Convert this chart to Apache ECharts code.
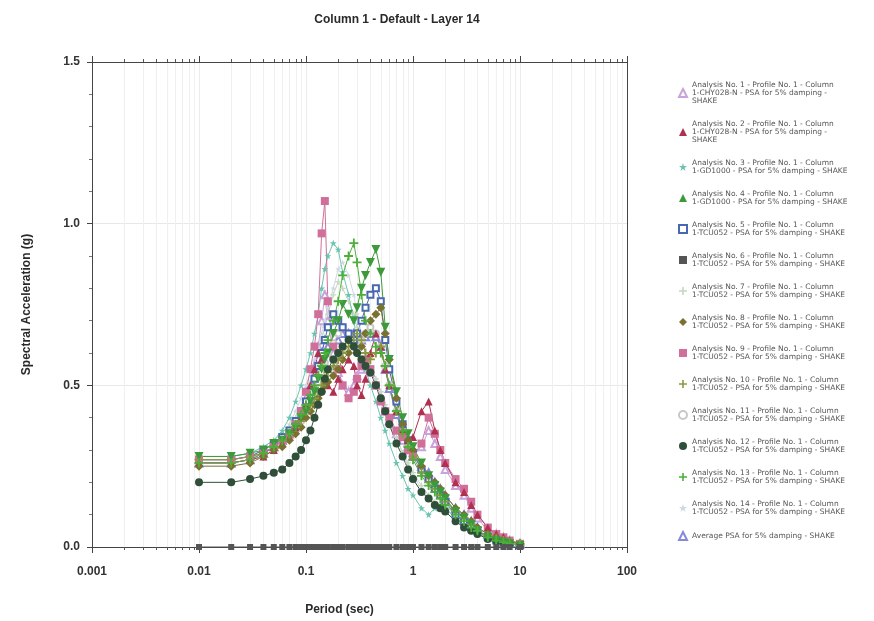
<!DOCTYPE html>
<html>
<head>
<meta charset="utf-8">
<script src="https://cdn.jsdelivr.net/npm/echarts@6/dist/echarts.min.js"></script>
<style>
html,body{margin:0;padding:0;background:#fff;}
#chart{width:874px;height:621px;}
</style>
</head>
<body>
<div id="chart"></div>
<script>
// ---------- DATA ----------
const titleText = 'Column 1 - Default - Layer 14';
const xAxisName = 'Period (sec)';
const yAxisName = 'Spectral Acceleration (g)';
const xTickValues = [0.001, 0.01, 0.1, 1, 10, 100];
const yTickValues = [0.0, 0.5, 1.0, 1.5];

const periods = [0.01,0.02,0.03,0.04,0.05,0.06,0.07,0.08,0.09,0.1,0.11,0.12,0.13,0.14,0.15,0.16,0.18,0.2,0.22,0.25,0.28,0.3,0.33,0.36,0.4,0.45,0.5,0.55,0.6,0.7,0.8,0.9,1.0,1.2,1.4,1.6,1.8,2.0,2.5,3.0,3.5,4.0,5.0,6.0,7.0,8.0,10.0];

const seriesNames = [
  'Analysis No. 1 - Profile No. 1 - Column 1-CHY028-N - PSA for 5% damping - SHAKE',
  'Analysis No. 2 - Profile No. 1 - Column 1-CHY028-N - PSA for 5% damping - SHAKE',
  'Analysis No. 3 - Profile No. 1 - Column 1-GD1000 - PSA for 5% damping - SHAKE',
  'Analysis No. 4 - Profile No. 1 - Column 1-GD1000 - PSA for 5% damping - SHAKE',
  'Analysis No. 5 - Profile No. 1 - Column 1-TCU052 - PSA for 5% damping - SHAKE',
  'Analysis No. 6 - Profile No. 1 - Column 1-TCU052 - PSA for 5% damping - SHAKE',
  'Analysis No. 7 - Profile No. 1 - Column 1-TCU052 - PSA for 5% damping - SHAKE',
  'Analysis No. 8 - Profile No. 1 - Column 1-TCU052 - PSA for 5% damping - SHAKE',
  'Analysis No. 9 - Profile No. 1 - Column 1-TCU052 - PSA for 5% damping - SHAKE',
  'Analysis No. 10 - Profile No. 1 - Column 1-TCU052 - PSA for 5% damping - SHAKE',
  'Analysis No. 11 - Profile No. 1 - Column 1-TCU052 - PSA for 5% damping - SHAKE',
  'Analysis No. 12 - Profile No. 1 - Column 1-TCU052 - PSA for 5% damping - SHAKE',
  'Analysis No. 13 - Profile No. 1 - Column 1-TCU052 - PSA for 5% damping - SHAKE',
  'Analysis No. 14 - Profile No. 1 - Column 1-TCU052 - PSA for 5% damping - SHAKE',
  'Average PSA for 5% damping - SHAKE'
];

const psa1  = [0.27,0.27,0.28,0.29,0.31,0.33,0.35,0.38,0.41,0.45,0.50,0.56,0.62,0.70,0.78,0.70,0.60,0.54,0.50,0.48,0.50,0.53,0.55,0.56,0.54,0.50,0.46,0.42,0.39,0.35,0.33,0.30,0.28,0.31,0.36,0.32,0.28,0.24,0.19,0.16,0.12,0.09,0.05,0.04,0.03,0.02,0.01];
const psa2  = [0.26,0.26,0.27,0.28,0.30,0.32,0.34,0.37,0.40,0.44,0.50,0.55,0.60,0.58,0.52,0.50,0.48,0.52,0.55,0.58,0.56,0.50,0.47,0.52,0.60,0.66,0.62,0.55,0.50,0.42,0.36,0.33,0.34,0.42,0.45,0.36,0.30,0.26,0.20,0.17,0.13,0.10,0.06,0.04,0.03,0.02,0.01];
const psa3  = [0.28,0.28,0.29,0.31,0.33,0.36,0.40,0.45,0.50,0.55,0.60,0.66,0.72,0.80,0.86,0.90,0.94,0.92,0.85,0.78,0.70,0.62,0.58,0.55,0.50,0.45,0.40,0.36,0.32,0.26,0.22,0.18,0.16,0.12,0.10,0.12,0.13,0.12,0.09,0.07,0.05,0.04,0.03,0.02,0.015,0.01,0.005];
const psa4  = [0.28,0.28,0.29,0.30,0.32,0.33,0.35,0.37,0.40,0.42,0.45,0.48,0.52,0.55,0.58,0.60,0.66,0.70,0.75,0.72,0.70,0.74,0.80,0.84,0.88,0.92,0.85,0.68,0.58,0.48,0.40,0.35,0.31,0.26,0.22,0.19,0.17,0.15,0.11,0.09,0.07,0.05,0.03,0.02,0.015,0.01,0.005];
const psa5  = [0.27,0.27,0.28,0.30,0.32,0.34,0.36,0.39,0.42,0.45,0.48,0.52,0.56,0.60,0.64,0.68,0.72,0.70,0.68,0.66,0.64,0.66,0.70,0.74,0.78,0.80,0.76,0.64,0.55,0.45,0.38,0.33,0.29,0.24,0.21,0.18,0.16,0.14,0.10,0.08,0.06,0.05,0.03,0.02,0.015,0.01,0.005];
const psa6  = [0,0,0,0,0,0,0,0,0,0,0,0,0,0,0,0,0,0,0,0,0,0,0,0,0,0,0,0,0,0,0,0,0,0,0,0,0,0,0,0,0,0,0,0,0,0,0];
const psa7  = [0.27,0.27,0.28,0.30,0.32,0.34,0.37,0.40,0.43,0.47,0.51,0.55,0.60,0.64,0.68,0.72,0.78,0.82,0.80,0.76,0.72,0.68,0.64,0.60,0.56,0.52,0.48,0.44,0.40,0.34,0.29,0.26,0.23,0.19,0.16,0.14,0.13,0.12,0.09,0.07,0.05,0.04,0.03,0.02,0.015,0.01,0.005];
const psa8  = [0.25,0.25,0.26,0.28,0.30,0.31,0.33,0.35,0.37,0.40,0.42,0.44,0.46,0.48,0.50,0.51,0.53,0.55,0.58,0.60,0.62,0.60,0.62,0.66,0.70,0.72,0.74,0.66,0.58,0.46,0.38,0.33,0.30,0.25,0.22,0.20,0.18,0.16,0.12,0.10,0.08,0.06,0.04,0.03,0.02,0.015,0.01];
const psa9  = [0.27,0.27,0.28,0.29,0.31,0.33,0.35,0.38,0.42,0.48,0.55,0.62,0.72,0.97,1.07,0.76,0.62,0.55,0.50,0.46,0.48,0.52,0.56,0.58,0.55,0.50,0.45,0.42,0.40,0.36,0.34,0.30,0.28,0.32,0.40,0.35,0.30,0.26,0.21,0.18,0.14,0.10,0.06,0.04,0.03,0.02,0.01];
const psa10 = [0.27,0.27,0.28,0.29,0.31,0.33,0.35,0.37,0.39,0.42,0.44,0.46,0.48,0.50,0.52,0.54,0.56,0.58,0.60,0.62,0.64,0.66,0.64,0.60,0.58,0.60,0.62,0.56,0.50,0.42,0.35,0.31,0.28,0.23,0.20,0.18,0.16,0.14,0.11,0.09,0.07,0.05,0.035,0.025,0.02,0.015,0.01];
const psa11 = [0.26,0.26,0.27,0.28,0.30,0.32,0.34,0.36,0.39,0.42,0.45,0.48,0.51,0.54,0.57,0.60,0.63,0.66,0.68,0.66,0.64,0.62,0.64,0.66,0.68,0.66,0.62,0.56,0.50,0.42,0.36,0.32,0.29,0.24,0.21,0.19,0.17,0.15,0.11,0.09,0.07,0.05,0.035,0.025,0.02,0.015,0.01];
const psa12 = [0.20,0.20,0.21,0.22,0.23,0.24,0.26,0.28,0.30,0.33,0.36,0.40,0.44,0.48,0.52,0.55,0.58,0.60,0.62,0.64,0.62,0.60,0.58,0.56,0.54,0.50,0.46,0.42,0.38,0.32,0.28,0.24,0.21,0.17,0.15,0.13,0.12,0.11,0.08,0.06,0.05,0.04,0.025,0.02,0.015,0.01,0.005];
const psa13 = [0.26,0.26,0.27,0.29,0.31,0.33,0.35,0.38,0.41,0.44,0.47,0.50,0.53,0.56,0.60,0.64,0.70,0.76,0.84,0.90,0.94,0.88,0.78,0.70,0.66,0.62,0.60,0.56,0.50,0.42,0.36,0.31,0.27,0.22,0.19,0.17,0.15,0.13,0.10,0.08,0.06,0.05,0.03,0.02,0.015,0.01,0.005];
const psa14 = [0.28,0.28,0.29,0.31,0.33,0.35,0.38,0.42,0.46,0.50,0.54,0.58,0.62,0.66,0.70,0.74,0.80,0.86,0.88,0.84,0.78,0.72,0.66,0.60,0.56,0.52,0.48,0.44,0.40,0.34,0.29,0.25,0.22,0.18,0.15,0.13,0.12,0.11,0.08,0.06,0.05,0.04,0.025,0.02,0.015,0.01,0.005];
const psaAvg = [0.26,0.26,0.27,0.29,0.31,0.33,0.35,0.38,0.41,0.44,0.48,0.52,0.56,0.60,0.64,0.62,0.62,0.64,0.66,0.66,0.66,0.64,0.64,0.65,0.66,0.65,0.62,0.55,0.49,0.41,0.35,0.31,0.28,0.25,0.23,0.20,0.18,0.16,0.12,0.10,0.08,0.06,0.04,0.03,0.02,0.015,0.01];

const seriesValues = [psa1,psa2,psa3,psa4,psa5,psa6,psa7,psa8,psa9,psa10,psa11,psa12,psa13,psa14,psaAvg];

// ---------- STYLES ----------
const PLUS = 'path://M4,0H6V4H10V6H6V10H4V6H0V4H4Z';
const STAR = 'path://M5,0L6.2,3.8L10,3.8L7,6.2L8.1,10L5,7.6L1.9,10L3,6.2L0,3.8L3.8,3.8Z';
const styles = [
  {color:'#c9a3dc', symbol:'emptyTriangle', rot:0,   size:7},
  {color:'#b03050', symbol:'triangle',      rot:0,   size:8},
  {color:'#6cc4b0', symbol:STAR,            rot:0,   size:7},
  {color:'#3c9a3a', symbol:'triangle',      rot:180, size:9},
  {color:'#4a68b0', symbol:'emptyRect',     rot:0,   size:6},
  {color:'#555555', symbol:'rect',          rot:0,   size:6},
  {color:'#c6d8c0', symbol:PLUS,            rot:0,   size:6},
  {color:'#7a7030', symbol:'diamond',       rot:0,   size:9},
  {color:'#d0709a', symbol:'rect',          rot:0,   size:8},
  {color:'#8a9a40', symbol:PLUS,            rot:0,   size:9},
  {color:'#c8c8c8', symbol:'emptyCircle',   rot:0,   size:6},
  {color:'#2f4f3a', symbol:'circle',        rot:0,   size:8},
  {color:'#4caf3a', symbol:PLUS,            rot:0,   size:9},
  {color:'#d0d8e6', symbol:STAR,            rot:0,   size:6},
  {color:'#8888d8', symbol:'emptyTriangle', rot:0,   size:7}
];
const drawOrder = [0,14,10,13,6,4,2,8,1,7,9,11,3,12,5];

function legendLabel(name){
  if (name.indexOf('Average') === 0) return name;
  const i = name.indexOf(' - Column ');
  const head = name.substring(0, i) + ' - Column';
  const tail = name.substring(i + 10);
  if (tail.indexOf('CHY') >= 0) {
    return head + '\n' + tail.replace(' - SHAKE', ' -') + '\nSHAKE';
  }
  return head + '\n' + tail;
}

const chart = echarts.init(document.getElementById('chart'), null, {renderer:'canvas'});
const FONT = 'Liberation Sans';

const series = drawOrder.map(function(i){
  const st = styles[i];
  return {
    name: seriesNames[i],
    type: 'line',
    data: periods.map(function(p, k){ return [p, seriesValues[i][k]]; }),
    symbol: st.symbol,
    symbolRotate: st.rot,
    symbolSize: st.size,
    showAllSymbol: true,
    lineStyle: {color: st.color, width: 1},
    itemStyle: {color: st.color},
    emphasis: {disabled: true},
    animation: false,
    z: 3
  };
});

const option = {
  backgroundColor: '#ffffff',
  animation: false,
  title: {
    text: titleText,
    left: 392, top: 9, textAlign: 'center',
    textStyle: {fontFamily: FONT, fontSize: 12, fontWeight: 'bold', color: '#2a2a2a'}
  },
  grid: {left: 92, right: 247, top: 62, bottom: 70, containLabel: false},
  legend: {
    orient: 'vertical',
    left: 673, top: 76,
    itemWidth: 8, itemHeight: 8,
    itemGap: 15,
    selectedMode: false,
    data: seriesNames.map(function(n, i){
      return {name: n, icon: styles[i].symbol};
    }),
    formatter: legendLabel,
    textStyle: {fontFamily: 'DejaVu Sans', fontSize: 7.5, lineHeight: 8, color: '#555'}
  },
  xAxis: [{
    type: 'log', logBase: 10, min: 0.001, max: 100,
    position: 'bottom',
    name: xAxisName, nameLocation: 'middle', nameGap: 57,
    nameTextStyle: {fontFamily: FONT, fontSize: 12, fontWeight: 'bold', color: '#2a2a2a', padding:[0,40,0,0]},
    axisLine: {show: true, onZero: false, lineStyle: {color: '#444', width: 1}},
    axisTick: {show: true, inside: false, length: 6, lineStyle: {color: '#444'}},
    axisLabel: {
      fontFamily: FONT, fontSize: 12, fontWeight: 'bold', color: '#333', margin: 19,
      formatter: function(v){
        for (const t of xTickValues) { if (Math.abs(v - t) / t < 1e-6) return String(t); }
        return '';
      }
    },
    splitLine: {show: true, lineStyle: {color: '#ececec', width: 1}}
  }, {
    type: 'log', logBase: 10, min: 0.001, max: 100,
    position: 'top',
    axisLine: {show: true, onZero: false, lineStyle: {color: '#444', width: 1}},
    axisTick: {show: true, inside: false, length: 6, lineStyle: {color: '#444'}},
    axisLabel: {show: false},
    splitLine: {show: false}
  }],
  yAxis: [{
    type: 'value', min: 0, max: 1.5, interval: 0.5,
    name: yAxisName, nameLocation: 'middle', nameGap: 59,
    nameTextStyle: {fontFamily: FONT, fontSize: 12, fontWeight: 'bold', color: '#2a2a2a'},
    axisLine: {show: true, onZero: false, lineStyle: {color: '#444', width: 1}},
    axisTick: {show: true, inside: false, length: 5, lineStyle: {color: '#444'}},
    minorTick: {show: true, splitNumber: 5, length: 3, lineStyle: {color: '#777'}},
    axisLabel: {
      fontFamily: FONT, fontSize: 12, fontWeight: 'bold', color: '#333', margin: 12,
      formatter: function(v){ return v.toFixed(1); }
    },
    splitLine: {show: true, lineStyle: {color: '#e8e8e8', width: 1}}
  }, {
    type: 'value', min: 0, max: 1.5, interval: 0.5,
    position: 'right',
    axisLine: {show: true, onZero: false, lineStyle: {color: '#444', width: 1}},
    axisTick: {show: false},
    axisLabel: {show: false},
    splitLine: {show: false}
  }],
  series: series
};

chart.setOption(option);

// Log-scale minor ticks and faint minor grid lines, placed through the axis scale
function addMinorLogTicks(){
  const yBottom = chart.convertToPixel({yAxisIndex: 0}, 0);
  const yTop = chart.convertToPixel({yAxisIndex: 0}, 1.5);
  const els = [];
  for (let e = -3; e < 2; e++) {
    for (let k = 2; k <= 9; k++) {
      const v = k * Math.pow(10, e);
      const x = Math.round(chart.convertToPixel({xAxisIndex: 0}, v)) + 0.5;
      els.push({type:'line', silent:true, z:0, shape:{x1:x, y1:yTop, x2:x, y2:yBottom}, style:{stroke:'#f0f0f0', lineWidth:1}});
      els.push({type:'line', silent:true, z:5, shape:{x1:x, y1:yBottom, x2:x, y2:yBottom + 3}, style:{stroke:'#555', lineWidth:1}});
      els.push({type:'line', silent:true, z:5, shape:{x1:x, y1:yTop, x2:x, y2:yTop - 3}, style:{stroke:'#555', lineWidth:1}});
    }
  }
  chart.setOption({graphic: {elements: els}});
}
addMinorLogTicks();
</script>
</body>
</html>
